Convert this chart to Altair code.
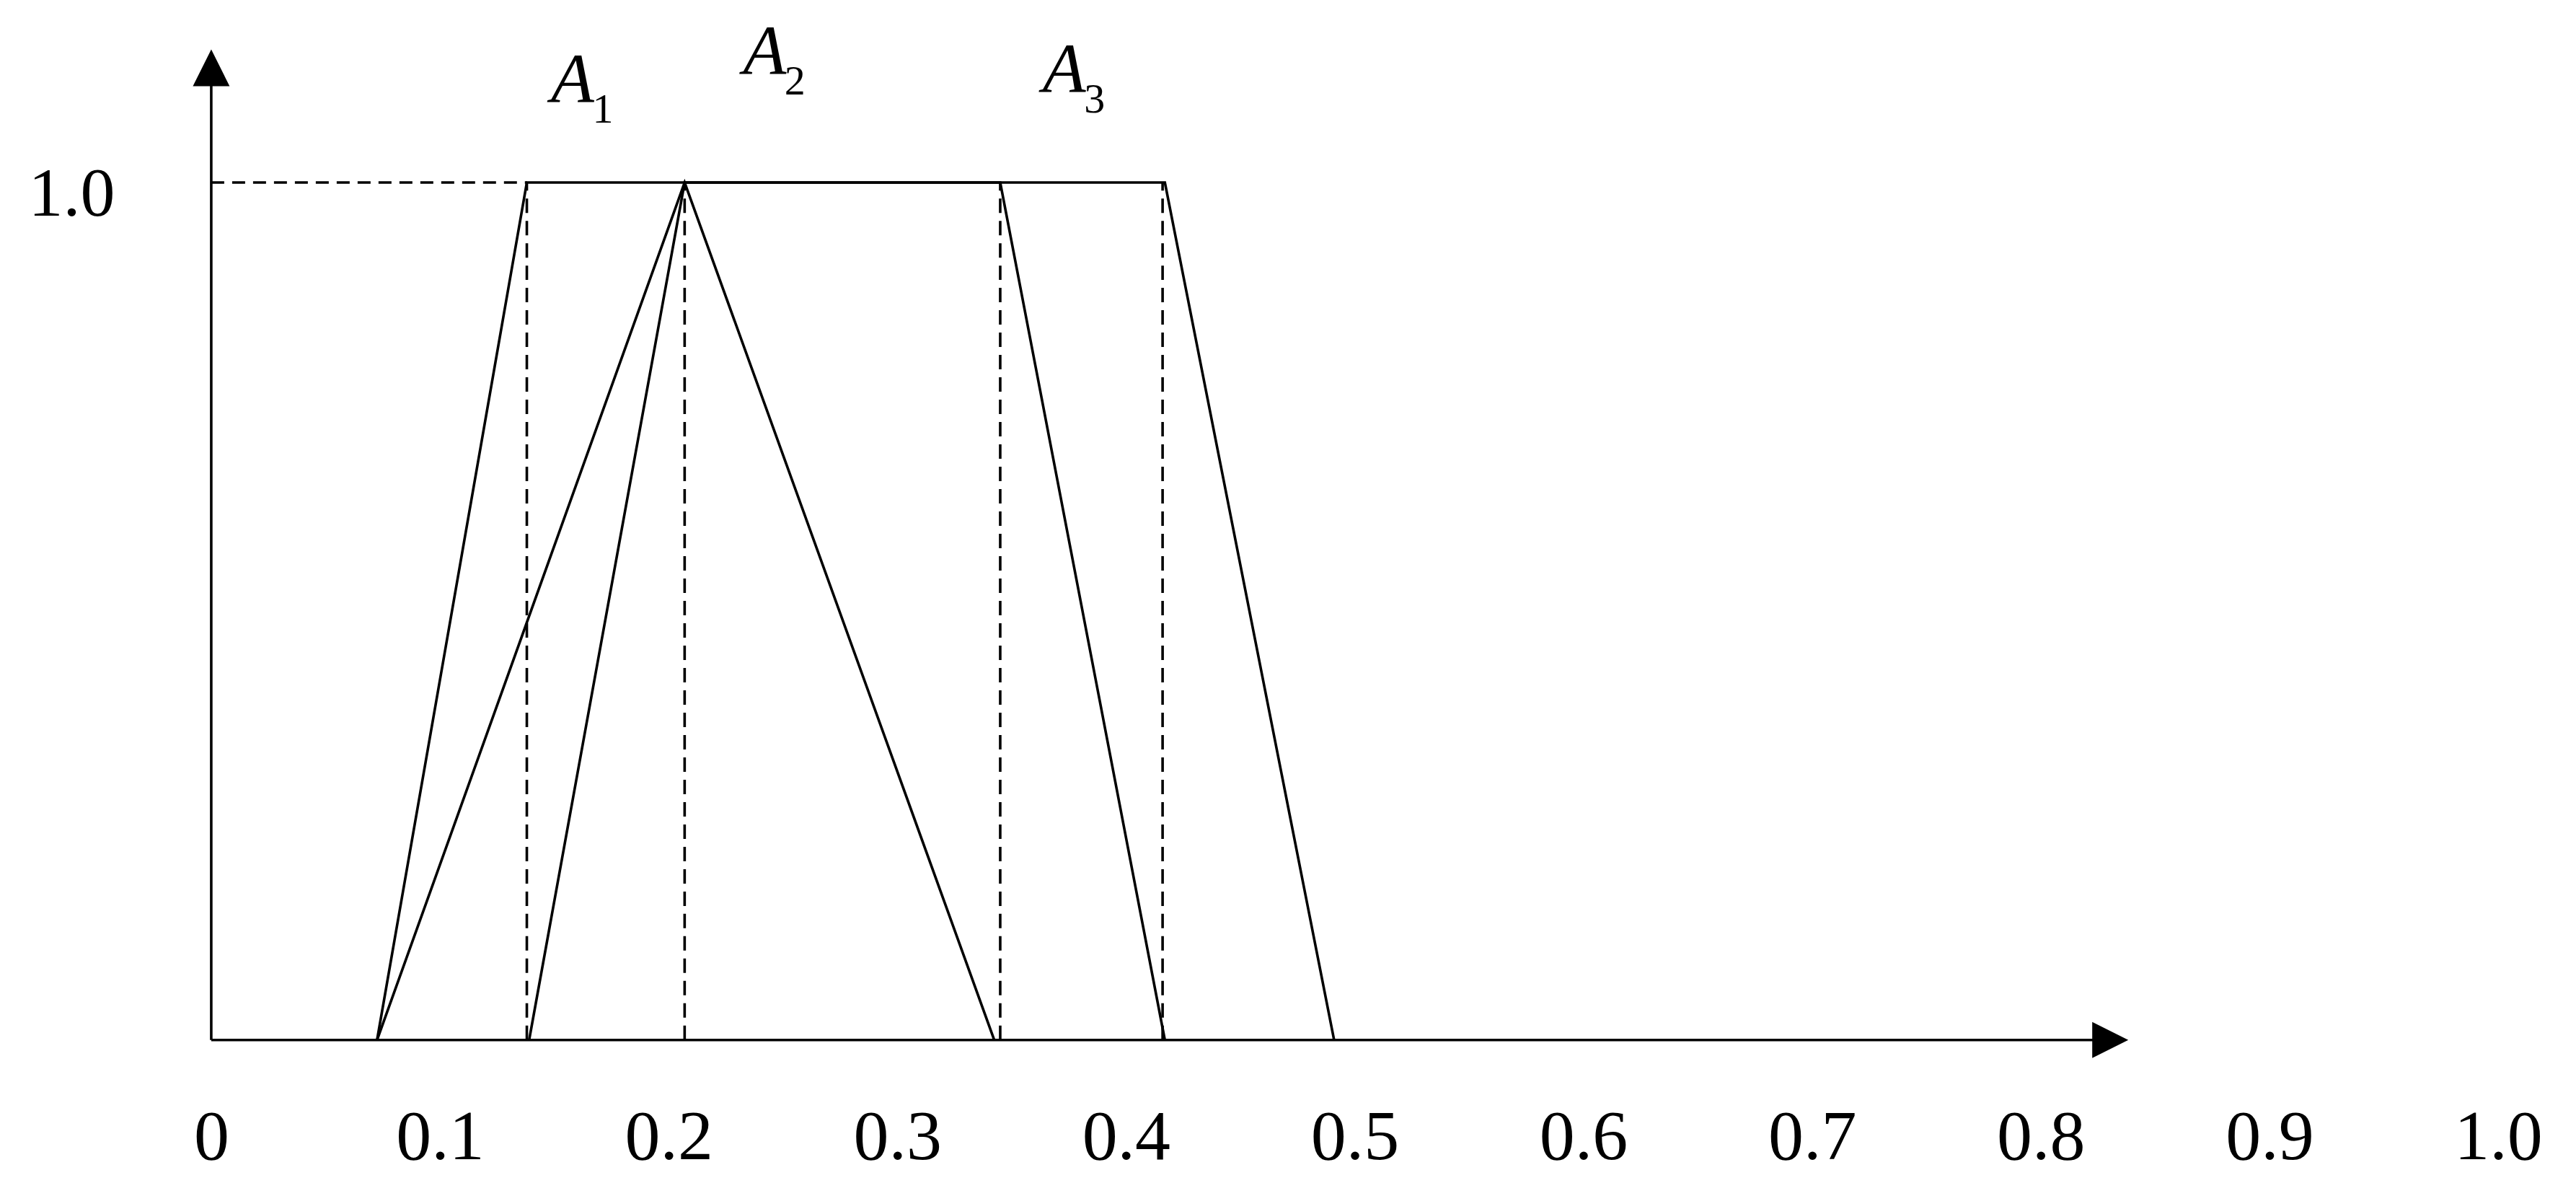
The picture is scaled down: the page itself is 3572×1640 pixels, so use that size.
import altair as alt
import pandas as pd

# ---- data ----
series_names = ["A1", "A2", "A3"]
A1_x = [0.0725, 0.138, 0.345, 0.417]
A1_y = [0, 1, 1, 0]
A2_x = [0.0725, 0.207, 0.3424]
A2_y = [0, 1, 0]
A3_x = [0.139, 0.207, 0.417, 0.491]
A3_y = [0, 1, 1, 0]

dash_x = [0.138, 0.207, 0.345, 0.416]   # dashed verticals
dash_h_end = 0.138                       # dashed horizontal at membership 1.0
top_level = 1.0

tick_values = [0, 0.1, 0.2, 0.3, 0.4, 0.5, 0.6, 0.7, 0.8, 0.9, 1.0]
tick_labels = ["0", "0.1", "0.2", "0.3", "0.4", "0.5", "0.6", "0.7", "0.8", "0.9", "1.0"]
y_tick_values = [1.0]
y_tick_labels = ["1.0"]

name_main = ["A", "A", "A"]
name_sub = ["1", "2", "3"]
name_x = [0.158, 0.242, 0.373]
name_y = [1.119, 1.151, 1.130]

x_axis_end = 0.8304
y_axis_end = 1.1337

# ---- tables ----
rows = []
for s, xs_, ys_ in zip(series_names, [A1_x, A2_x, A3_x], [A1_y, A2_y, A3_y]):
    for i, (xv, yv) in enumerate(zip(xs_, ys_)):
        rows.append({"series": s, "i": i, "x": xv, "y": yv})
lines_df = pd.DataFrame(rows)

dash_df = pd.DataFrame({"x": dash_x, "y": [0] * len(dash_x), "y2": [top_level] * len(dash_x)})
dash_h_df = pd.DataFrame({"x": [0], "x2": [dash_h_end], "y": [top_level]})
names_df = pd.DataFrame({"main": name_main, "sub": name_sub, "x": name_x, "y": name_y})
xaxis_df = pd.DataFrame({"x": [0], "x2": [x_axis_end], "y": [0]})
yaxis_df = pd.DataFrame({"x": [0], "y": [0], "y2": [y_axis_end]})
xarrow_df = pd.DataFrame({"x": [x_axis_end], "y": [0]})
yarrow_df = pd.DataFrame({"x": [0], "y": [y_axis_end]})

FONT = "Liberation Serif"
SW = 3.6

xs = alt.Scale(domain=[0, 1.0], nice=False, zero=False)
ys = alt.Scale(domain=[0, 1.2], nice=False, zero=False)

x_label_expr = "[" + ",".join("'" + l + "'" for l in tick_labels) + "][round(datum.value*10)]"
y_label_expr = "'" + y_tick_labels[0] + "'"

lines = alt.Chart(lines_df).mark_line(color="black", strokeWidth=SW, strokeJoin="miter").encode(
    x=alt.X("x:Q", scale=xs, axis=alt.Axis(
        values=tick_values, labelExpr=x_label_expr, title=None, grid=False,
        domain=False, ticks=False, tickSize=0, labelFont=FONT, labelFontSize=98,
        labelColor="black", labelPadding=88, labelFlush=False, labelOverlap=False,
        labelBaseline="top")),
    y=alt.Y("y:Q", scale=ys, axis=alt.Axis(
        values=y_tick_values, labelExpr=y_label_expr, title=None, grid=False,
        domain=False, ticks=False, tickSize=0, labelFont=FONT, labelFontSize=96,
        labelColor="black", labelPadding=134, labelOffset=17, labelFlush=False,
        labelOverlap=False)),
    detail="series:N",
    order="i:Q",
)

dashes = alt.Chart(dash_df).mark_rule(color="black", strokeWidth=SW, strokeDash=[20, 11]).encode(
    x=alt.X("x:Q", scale=xs), y=alt.Y("y:Q", scale=ys), y2="y2:Q")

dash_h = alt.Chart(dash_h_df).mark_rule(color="black", strokeWidth=SW, strokeDash=[18, 11]).encode(
    x=alt.X("x:Q", scale=xs), x2="x2:Q", y=alt.Y("y:Q", scale=ys))

xaxis = alt.Chart(xaxis_df).mark_rule(color="black", strokeWidth=SW).encode(
    x=alt.X("x:Q", scale=xs), x2="x2:Q", y=alt.Y("y:Q", scale=ys))
yaxis = alt.Chart(yaxis_df).mark_rule(color="black", strokeWidth=SW).encode(
    x=alt.X("x:Q", scale=xs), y=alt.Y("y:Q", scale=ys), y2="y2:Q")

xarrow = alt.Chart(xarrow_df).mark_point(
    shape="M1,0L-1,-1L-1,1Z", filled=True, size=2500, color="black", opacity=1, strokeWidth=0
).encode(x=alt.X("x:Q", scale=xs), y=alt.Y("y:Q", scale=ys))
yarrow = alt.Chart(yarrow_df).mark_point(
    shape="M0,-1L1,1L-1,1Z", filled=True, size=2601, color="black", opacity=1, strokeWidth=0
).encode(x=alt.X("x:Q", scale=xs), y=alt.Y("y:Q", scale=ys))

names = alt.Chart(names_df).mark_text(
    font=FONT, fontSize=98, fontStyle="italic", color="black", align="center", baseline="middle"
).encode(x=alt.X("x:Q", scale=xs), y=alt.Y("y:Q", scale=ys), text="main:N")
subs = alt.Chart(names_df).mark_text(
    font=FONT, fontSize=58, color="black", align="center", baseline="middle", dx=42, dy=41
).encode(x=alt.X("x:Q", scale=xs), y=alt.Y("y:Q", scale=ys), text="sub:N")

chart = alt.layer(lines, dashes, dash_h, xaxis, yaxis, xarrow, yarrow, names, subs).properties(
    width=3172, height=1427,
    padding={"left": 285, "top": 7, "right": 100, "bottom": 190},
    autosize=alt.AutoSizeParams(type="none"),
    background="white",
).configure_view(stroke=None)

chart.save("out.html", embed_options={"renderer": "svg", "actions": False})
